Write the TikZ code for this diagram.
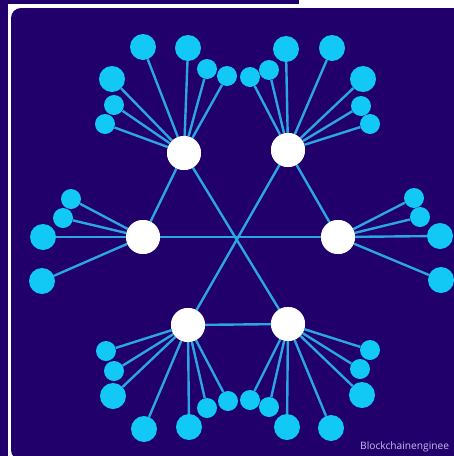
\documentclass[tikz,border=0pt]{standalone}
\usepackage{fontspec}
\setsansfont{Open Sans}
\usepackage{tikz}
\usetikzlibrary{positioning}

\definecolor{bgblue}{HTML}{21006B}
\definecolor{leafcyan}{HTML}{12C8F5}
\definecolor{linkblue}{HTML}{2CA6E2}
\definecolor{textlav}{HTML}{C4BEE8}

\tikzset{
    hub/.style={circle, fill=white, inner sep=0pt, minimum size=34pt},
    bigleaf/.style={circle, fill=leafcyan, inner sep=0pt, minimum size=26pt},
    smallleaf/.style={circle, fill=leafcyan, inner sep=0pt, minimum size=20pt},
    link/.style={draw=linkblue, line width=2.4pt}
}

\begin{document}
\begin{tikzpicture}[x=1pt, y=-1pt]
    \useasboundingbox (0,0) rectangle (454,456);
    % frame
    \fill[bgblue] (0,0) rectangle (454,456);
    \fill[white] (8,4) rectangle (454,456);
    \fill[white] (299,0) rectangle (454,8);
    \fill[bgblue, rounded corners=10pt] (11,8) rectangle (470,460);

    % hubs
    \node[hub] (tl) at (184,153) {};
    \node[hub] (tr) at (288,150) {};
    \node[hub] (l) at (143,237) {};
    \node[hub] (r) at (338,237) {};
    \node[hub] (bl) at (188,325) {};
    \node[hub] (br) at (288,324) {};

    % top left fan
    \node[bigleaf] (tl1) at (143,47) {};
    \node[bigleaf] (tl2) at (188,48) {};
    \node[smallleaf] (tl3) at (207,69) {};
    \node[smallleaf] (tl4) at (227,76) {};
    \node[bigleaf] (tl5) at (112,79) {};
    \node[smallleaf] (tl6) at (114,105) {};
    \node[smallleaf] (tl7) at (105,124) {};

    % top right fan
    \node[smallleaf] (tr1) at (250,77) {};
    \node[smallleaf] (tr2) at (269,70) {};
    \node[bigleaf] (tr3) at (286,49) {};
    \node[bigleaf] (tr4) at (332,48) {};
    \node[bigleaf] (tr5) at (363,79) {};
    \node[smallleaf] (tr6) at (361,106) {};
    \node[smallleaf] (tr7) at (370,124) {};

    % left fan
    \node[smallleaf] (l1) at (71,199) {};
    \node[smallleaf] (l2) at (63,218) {};
    \node[bigleaf] (l3) at (43,237) {};
    \node[bigleaf] (l4) at (42,281) {};

    % right fan
    \node[smallleaf] (r1) at (414,198) {};
    \node[smallleaf] (r2) at (420,217) {};
    \node[bigleaf] (r3) at (440,236) {};
    \node[bigleaf] (r4) at (441,280) {};

    % bottom left fan
    \node[smallleaf] (bl1) at (106,351) {};
    \node[smallleaf] (bl2) at (114,371) {};
    \node[bigleaf] (bl3) at (113,396) {};
    \node[bigleaf] (bl4) at (144,429) {};
    \node[bigleaf] (bl5) at (189,427) {};
    \node[smallleaf] (bl6) at (207,408) {};
    \node[smallleaf] (bl7) at (228,401) {};

    % bottom right fan
    \node[smallleaf] (br1) at (250,400) {};
    \node[smallleaf] (br2) at (269,407) {};
    \node[bigleaf] (br3) at (287,427) {};
    \node[bigleaf] (br4) at (331,428) {};
    \node[bigleaf] (br5) at (362,395) {};
    \node[smallleaf] (br6) at (360,369) {};
    \node[smallleaf] (br7) at (370,350) {};

    % links
    \draw[link] (tl.center) -- (br.center);
    \draw[link] (tr.center) -- (bl.center);
    \draw[link] (l.center) -- (r.center);
    \draw[link] (tl) -- (l);
    \draw[link] (tr) -- (r);
    \draw[link] (bl) -- (br);

    \draw[link] (tl) -- (tl1); \draw[link] (tl) -- (tl2); \draw[link] (tl) -- (tl3);
    \draw[link] (tl) -- (tl4); \draw[link] (tl) -- (tl5); \draw[link] (tl) -- (tl6);
    \draw[link] (tl) -- (tl7);
    \draw[link] (tr) -- (tr1); \draw[link] (tr) -- (tr2); \draw[link] (tr) -- (tr3);
    \draw[link] (tr) -- (tr4); \draw[link] (tr) -- (tr5); \draw[link] (tr) -- (tr6);
    \draw[link] (tr) -- (tr7);
    \draw[link] (l) -- (l1); \draw[link] (l) -- (l2); \draw[link] (l) -- (l3);
    \draw[link] (l) -- (l4);
    \draw[link] (r) -- (r1); \draw[link] (r) -- (r2); \draw[link] (r) -- (r3);
    \draw[link] (r) -- (r4);
    \draw[link] (bl) -- (bl1); \draw[link] (bl) -- (bl2); \draw[link] (bl) -- (bl3);
    \draw[link] (bl) -- (bl4); \draw[link] (bl) -- (bl5); \draw[link] (bl) -- (bl6);
    \draw[link] (bl) -- (bl7);
    \draw[link] (br) -- (br1); \draw[link] (br) -- (br2); \draw[link] (br) -- (br3);
    \draw[link] (br) -- (br4); \draw[link] (br) -- (br5); \draw[link] (br) -- (br6);
    \draw[link] (br) -- (br7);

    % hubs again, over the crossing links
    \node[hub] at (tl) {}; \node[hub] at (tr) {};
    \node[hub] at (bl) {}; \node[hub] at (br) {};
    \node[hub] at (l) {}; \node[hub] at (r) {};

    \node[anchor=base west, inner sep=0pt, text=textlav, font=\sffamily\fontsize{10.2}{12}\selectfont] (mark) at (360,449) {Blockchainenginee};
\end{tikzpicture}
\end{document}
